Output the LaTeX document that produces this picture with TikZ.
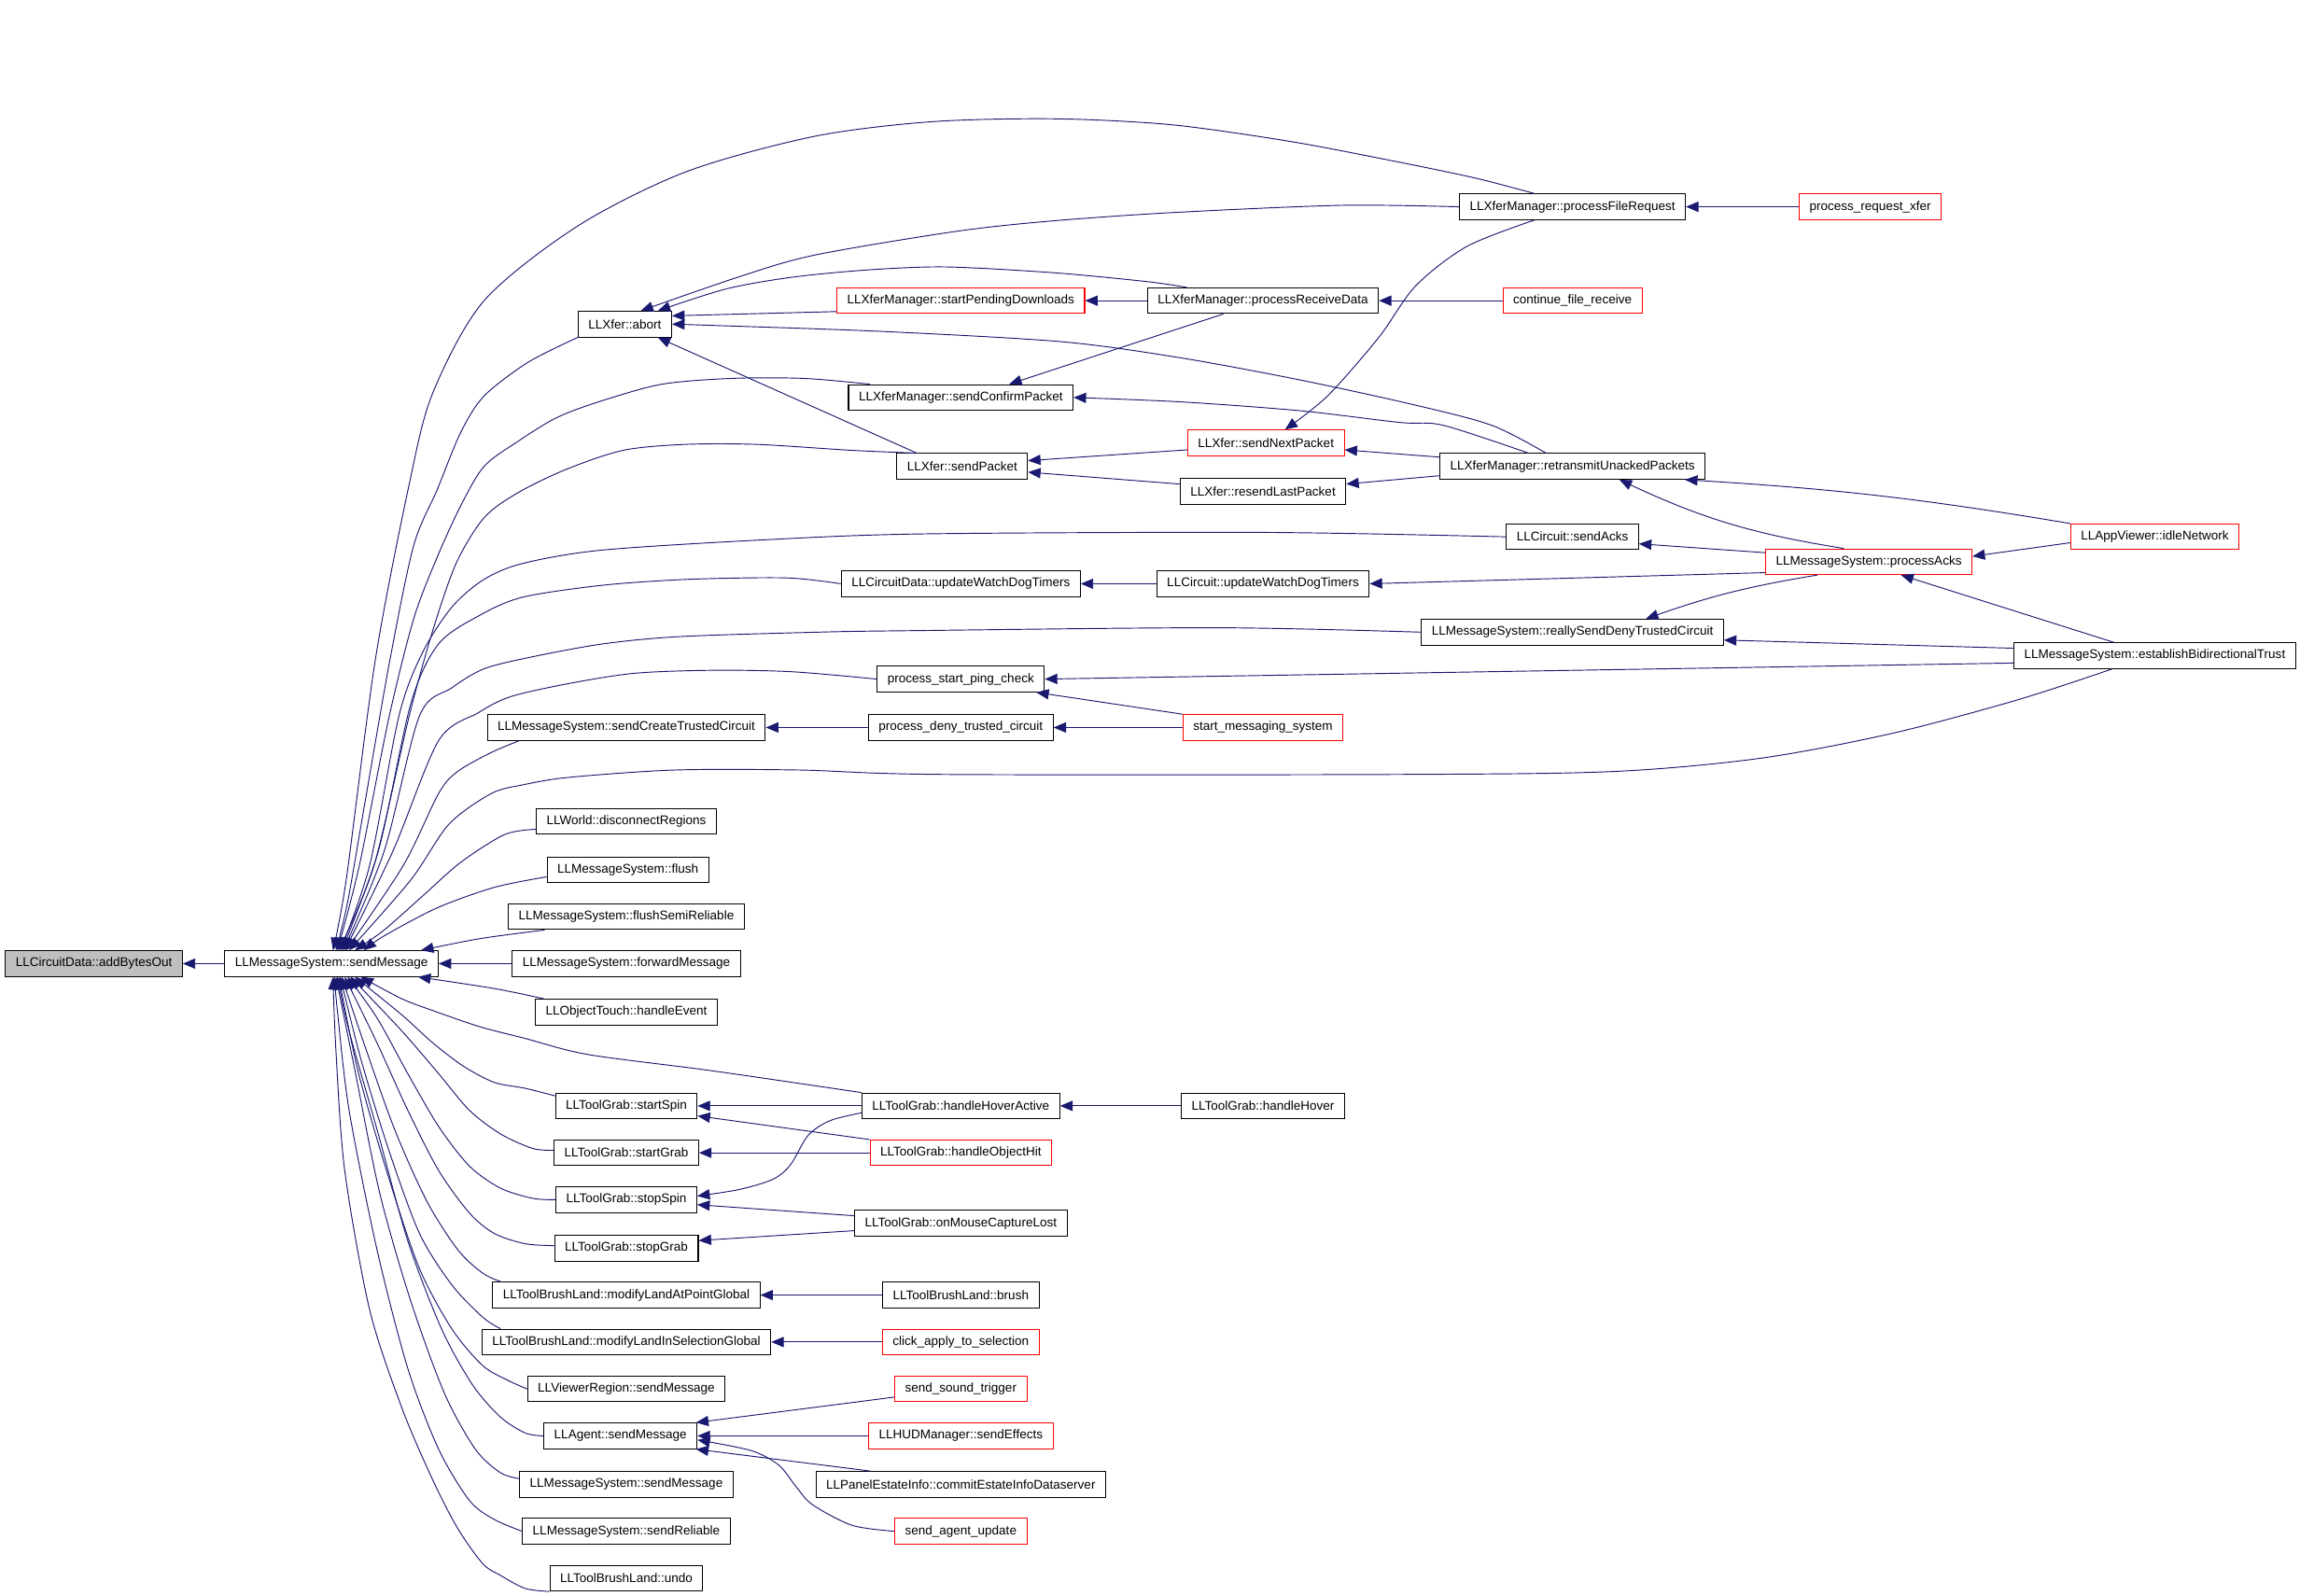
\documentclass[tikz,border=0pt]{standalone}
\usepackage{fontspec}
\setmainfont{Liberation Sans}
\usetikzlibrary{arrows.meta}
\definecolor{edgeblue}{HTML}{191970}

\begin{document}
\begin{tikzpicture}[x=1pt,y=-1pt,>={Triangle[length=8.5pt,width=7pt]},
	fn node/.style={rectangle,draw,line width=0.65pt,font=\fontsize{8.6}{10}\selectfont,inner xsep=7pt,inner ysep=0pt,minimum height=17.5pt},
	red node/.style={fn node,draw=red},
	root node/.style={fn node,fill=black!25},
	call/.style={->,draw=edgeblue,line width=0.6pt},
	every edge/.style={call}]
			
			\useasboundingbox (0,0) rectangle (1568,1088);
			
			\node[root node] (cda) at (64,657) {LLCircuitData::addBytesOut};
			\node[fn node] (sm) at (226,657) {LLMessageSystem::sendMessage};
			
			\node[fn node] (abort) at (426,221) {LLXfer::abort};
			\node[fn node] (sctc) at (427,496) {LLMessageSystem::sendCreateTrustedCircuit};
			\node[fn node] (dreg) at (427,560) {LLWorld::disconnectRegions};
			\node[fn node] (flush) at (428,593) {LLMessageSystem::flush};
			\node[fn node] (fsr) at (427,625) {LLMessageSystem::flushSemiReliable};
			\node[fn node] (fwd) at (427,657) {LLMessageSystem::forwardMessage};
			\node[fn node] (hev) at (427,690) {LLObjectTouch::handleEvent};
			\node[fn node] (sspin) at (427,754) {LLToolGrab::startSpin};
			\node[fn node] (sgrab) at (427,786) {LLToolGrab::startGrab};
			\node[fn node] (stspin) at (427,818) {LLToolGrab::stopSpin};
			\node[fn node] (stgrab) at (427,851) {LLToolGrab::stopGrab};
			\node[fn node] (mlap) at (427,883) {LLToolBrushLand::modifyLandAtPointGlobal};
			\node[fn node] (mlis) at (427,915) {LLToolBrushLand::modifyLandInSelectionGlobal};
			\node[fn node] (vrsm) at (427,947) {LLViewerRegion::sendMessage};
			\node[fn node] (agsm) at (423,979) {LLAgent::sendMessage};
			\node[fn node] (mssm) at (427,1012) {LLMessageSystem::sendMessage};
			\node[fn node] (srel) at (427,1044) {LLMessageSystem::sendReliable};
			\node[fn node] (undo) at (427,1076) {LLToolBrushLand::undo};
			
			\node[red node] (spd) at (655,205) {LLXferManager::startPendingDownloads};
			\node[fn node] (scp) at (655,271) {LLXferManager::sendConfirmPacket};
			\node[fn node] (spk) at (656,318) {LLXfer::sendPacket};
			\node[fn node] (cdw) at (655,398) {LLCircuitData::updateWatchDogTimers};
			\node[fn node] (pspc) at (655,463) {process\_start\_ping\_check};
			\node[fn node] (pdtc) at (655,496) {process\_deny\_trusted\_circuit};
			\node[fn node] (hha) at (655,754) {LLToolGrab::handleHoverActive};
			\node[red node] (hoh) at (655,786) {LLToolGrab::handleObjectHit};
			\node[fn node] (mcl) at (655,834) {LLToolGrab::onMouseCaptureLost};
			\node[fn node] (brush) at (655,883) {LLToolBrushLand::brush};
			\node[red node] (cats) at (655,915) {click\_apply\_to\_selection};
			\node[red node] (sst) at (655,947) {send\_sound\_trigger};
			\node[red node] (hud) at (655,979) {LLHUDManager::sendEffects};
			\node[fn node] (pei) at (655,1012) {LLPanelEstateInfo::commitEstateInfoDataserver};
			\node[red node] (sau) at (655,1044) {send\_agent\_update};
			
			\node[fn node] (prd) at (861,205) {LLXferManager::processReceiveData};
			\node[red node] (snp) at (863,302) {LLXfer::sendNextPacket};
			\node[fn node] (rlp) at (861,335) {LLXfer::resendLastPacket};
			\node[fn node] (cuw) at (861,398) {LLCircuit::updateWatchDogTimers};
			\node[red node] (sms) at (861,496) {start\_messaging\_system};
			\node[fn node] (hh) at (861,754) {LLToolGrab::handleHover};
			
			\node[fn node] (pfr) at (1072,141) {LLXferManager::processFileRequest};
			\node[red node] (cfr) at (1072,205) {continue\_file\_receive};
			\node[fn node] (rup) at (1072,318) {LLXferManager::retransmitUnackedPackets};
			\node[fn node] (sacks) at (1072,366) {LLCircuit::sendAcks};
			\node[fn node] (rsdtc) at (1072,431) {LLMessageSystem::reallySendDenyTrustedCircuit};
			
			\node[red node] (prx) at (1275,141) {process\_request\_xfer};
			\node[red node] (packs) at (1274,383) {LLMessageSystem::processAcks};
			
			\node[red node] (idle) at (1469,366) {LLAppViewer::idleNetwork};
			\node[fn node] (ebt) at (1469,447) {LLMessageSystem::establishBidirectionalTrust};
			
			\path
			(sm) edge (cda)
			(fwd) edge (sm)
			(prd) edge (spd)
			(cfr) edge (prd)
			(prx) edge (pfr)
			(cuw) edge (cdw)
			(pdtc) edge (sctc)
			(sms) edge (pdtc)
			(hha) edge (sspin)
			(hh) edge (hha)
			(hoh) edge (sgrab)
			(brush) edge (mlap)
			(cats) edge (mlis)
			(hud) edge (agsm)
			(spd.185) edge (abort.10)
			(snp.185) edge (spk.5)
			(rlp.175) edge (spk.-5)
			(rup.176) edge (snp.-5)
			(rup.184) edge (rlp.5)
			(packs.175) edge (sacks.-6)
			(packs.186) edge (cuw.east)
			(idle.184) edge (packs.3)
			(ebt.177) edge (rsdtc.-3)
			(ebt.183) edge (pspc.east)
			(sms.north west) edge (pspc.-10)
			(hoh.north west) edge (sspin.-8)
			(mcl.176) edge (stspin.-4)
			(mcl.184) edge (stgrab.6)
			(sst.187) edge (agsm.10)
			([xshift=-62pt]pei.north) edge (agsm.-10)
			([xshift=-31pt]spk.north) edge (abort.-22)
			([xshift=-27pt]prd.south) edge ([xshift=33pt]scp.north)
			([xshift=-17pt]packs.north) edge [bend left=8] ([xshift=32pt]rup.south)
			(idle.north west) edge [bend right=3] ([xshift=-14pt]rup.south east)
			([xshift=-35pt]packs.south) edge [bend right=5] ([xshift=50pt]rsdtc.north)
			([xshift=-28pt]ebt.north) edge ([xshift=22pt]packs.south)
			;
			
			\draw[call] plot[smooth] coordinates {(pfr.west) (914,140) (798,145) (713,151) (650,158) (555,174) (503,189) (abort.40)};
			\draw[call] plot[smooth] coordinates {([xshift=-52pt]prd.north) (782,192) (719,186) (645,182) (592,184) (540,189) (495,197) (abort.22)};
			\draw[call] plot[smooth] coordinates {([xshift=-18pt]rup.north) (1017,290) (964,276) (886,259) (805,244) (724,233) (602,226) (490,222) (abort.east)};
			\draw[call] plot[smooth] coordinates {([xshift=-30pt]rup.north) (984,290) (954,288) (886,280) (805,274) (scp.east)};
			\draw[call] plot[smooth] coordinates {([xshift=-26pt]pfr.south) (1000,168) (965,195) (940,230) (905,270) ([xshift=13pt]snp.north)};
			\draw[call] plot[smooth] coordinates {(hha.184) (566,764) (551,774) (539,794) (527,804) (504,811) (stspin.3)};
			\draw[call] plot[smooth] coordinates {(sau.west) (581,1040) (554,1026) (543,1014) (531,999) (512,989) (agsm.-3)};
			
			\draw[call] plot[smooth] coordinates {([xshift=-26pt]pfr.north) (1004,121) (941,108) (877,96) (798,85) (719,81) (635,83) (555,93) (468,117) (394,154) (330,205) (295,268) (279,330) (256,449) (236,600) ([xshift=1pt]sm.north)};
			\draw[call] plot[smooth] coordinates {(abort.south west) (360,247) (330,270) (314,295) (298,334) (282,372) (266,449) (249,546) (237,615) ([xshift=3pt]sm.north)};
			\draw[call] plot[smooth] coordinates {([xshift=15pt]scp.north west) (548,258) (499,258) (451,262) (408,274) (379,285) (353,301) (330,318) (314,345) (298,380) (282,422) (265,490) (245,590) ([xshift=4pt]sm.north)};
			\draw[call] plot[smooth] coordinates {([xshift=13pt]spk.north west) (580,307) (516,303) (467,303) (425,307) (386,320) (353,336) (330,353) (311,384) (295,430) (279,488) (255,590) ([xshift=5pt]sm.north)};
			\draw[call] plot[smooth] coordinates {(sacks.west) (862,363) (630,364) (522,368) (411,375) (357,384) (330,395) (308,414) (288,445) (272,488) (252,590) ([xshift=6pt]sm.north)};
			\draw[call] plot[smooth] coordinates {(cdw.west) (536,394) (469,395) (411,399) (357,407) (328,419) (299,439) (280,480) (258,580) ([xshift=7pt]sm.north)};
			\draw[call] plot[smooth] coordinates {(rsdtc.west) (830,428) (620,430) (558,431) (464,434) (411,439) (362,448) (330,456) (308,469) (286,488) (262,580) ([xshift=8pt]sm.north)};
			\draw[call] plot[smooth] coordinates {(pspc.west) (540,458) (487,457) (433,459) (388,466) (348,475) (326,486) (299,505) (268,580) ([xshift=9pt]sm.north)};
			\draw[call] plot[smooth] coordinates {([xshift=22pt]sctc.south west) (335,513) (312,526) (299,541) (275,590) ([xshift=10pt]sm.north)};
			\draw[call] plot[smooth] coordinates {([xshift=-29pt]ebt.south) (1376,477) (1290,500) (1200,517) (1100,526) (955,528) (643,528) (545,525) (460,525) (388,530) (357,535) (335,541) (306,562) (280,600) ([xshift=12pt]sm.north)};
			\draw[call] plot[smooth] coordinates {(dreg.185) (344,569) (314,588) (288,611) (262,634) ([xshift=16pt]sm.north)};
			\draw[call] plot[smooth] coordinates {(flush.185) (337,605) (298,619) (262,638) ([xshift=22pt]sm.north)};
			\draw[call] plot[smooth] coordinates {([xshift=25pt]fsr.south west) (327,640) ([xshift=-12pt]sm.north east)};
			
			\draw[call] plot[smooth] coordinates {([xshift=6pt]hev.north west) (337,674) ([xshift=-14pt]sm.south east)};
			\draw[call] plot[smooth] coordinates {(hha.north west) (485,730) (401,719) (358,708) (327,700) (295,689) (274,681) ([xshift=20pt]sm.south)};
			\draw[call] plot[smooth] coordinates {(sspin.172) (358,742) (337,738) (316,727) (295,711) (274,692) ([xshift=16pt]sm.south)};
			\draw[call] plot[smooth] coordinates {(sgrab.178) (363,783) (341,773) (320,757) (299,732) (274,703) ([xshift=13pt]sm.south)};
			\draw[call] plot[smooth] coordinates {(stspin.west) (363,817) (341,810) (320,795) (299,768) (278,732) (257,694) ([xshift=11pt]sm.south)};
			\draw[call] plot[smooth] coordinates {(stgrab.178) (358,848) (337,841) (320,827) (299,798) (278,757) (257,711) ([xshift=9pt]sm.south)};
			\draw[call] plot[smooth] coordinates {([xshift=6pt]mlap.north west) (329,868) (312,852) (291,819) (269,770) (248,711) ([xshift=7pt]sm.south)};
			\draw[call] plot[smooth] coordinates {([xshift=13pt]mlis.north west) (329,898) (308,876) (286,841) (265,784) (246,722) ([xshift=6pt]sm.south)};
			\draw[call] plot[smooth] coordinates {(vrsm.west) (346,941) (329,931) (308,906) (286,865) (265,803) (244,730) ([xshift=5pt]sm.south)};
			\draw[call] plot[smooth] coordinates {(agsm.west) (358,977) (341,966) (322,944) (301,906) (278,846) (257,770) (238,703) ([xshift=4pt]sm.south)};
			\draw[call] plot[smooth] coordinates {(mssm.177) (341,1004) (324,988) (303,950) (280,887) (259,814) (242,730) ([xshift=3pt]sm.south)};
			\draw[call] plot[smooth] coordinates {(srel.west) (337,1036) (320,1023) (299,988) (278,933) (257,852) (238,757) (230,689) ([xshift=2pt]sm.south)};
			\draw[call] plot[smooth] coordinates {(undo.south west) (358,1083) (341,1074) (329,1066) (312,1042) (295,1009) (274,960) (252,893) (235,798) (229,716) ([xshift=1pt]sm.south)};
			\end{tikzpicture}
\end{document}
